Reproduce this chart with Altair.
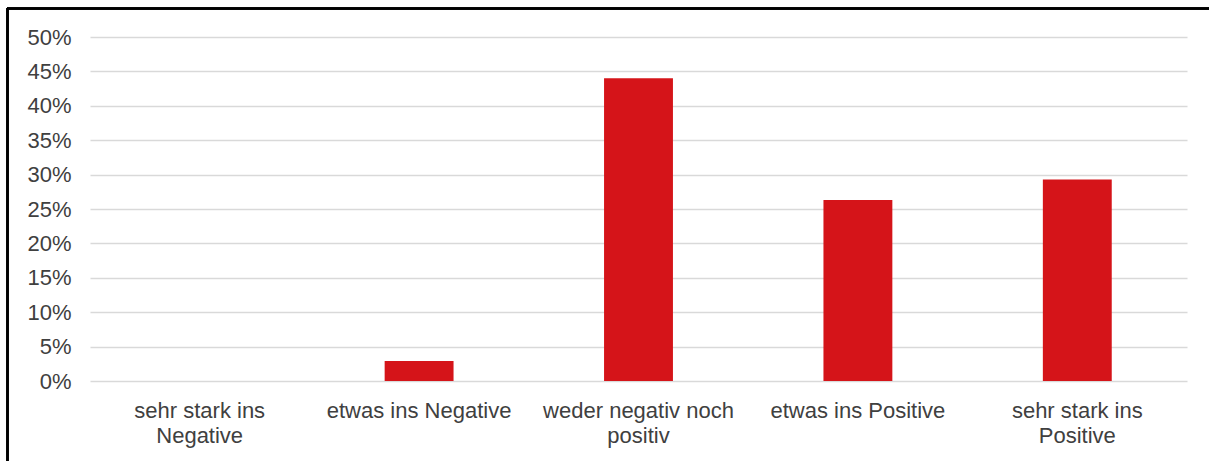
import altair as alt
import pandas as pd

# Survey answer categories and share of respondents per answer
categories = [
    "sehr stark ins Negative",
    "etwas ins Negative",
    "weder negativ noch positiv",
    "etwas ins Positive",
    "sehr stark ins Positive",
]
shares = [0.0, 0.029, 0.440, 0.263, 0.293]
tick_values = [0.0, 0.05, 0.10, 0.15, 0.20, 0.25, 0.30, 0.35, 0.40, 0.45, 0.50]

df = pd.DataFrame({"Kategorie": categories, "Anteil": shares})

FONT = "Liberation Sans"
LABEL_COLOR = "#404040"

# Wrapped axis labels (two lines where the text is long)
label_expr = (
    "{'sehr stark ins Negative': ['sehr stark ins', 'Negative'],"
    " 'etwas ins Negative': 'etwas ins Negative',"
    " 'weder negativ noch positiv': ['weder negativ noch', 'positiv'],"
    " 'etwas ins Positive': 'etwas ins Positive',"
    " 'sehr stark ins Positive': ['sehr stark ins', 'Positive']}[datum.label]"
)

bars = (
    alt.Chart(df)
    .mark_bar(color="#D51419")
    .encode(
        x=alt.X(
            "Kategorie:N",
            sort=categories,
            title=None,
            scale=alt.Scale(paddingInner=0.686, paddingOuter=0.343),
            axis=alt.Axis(
                labelAngle=0,
                labelExpr=label_expr,
                labelFont=FONT,
                labelFontSize=22,
                labelColor=LABEL_COLOR,
                labelLineHeight=25,
                labelPadding=19,
                labelLimit=300,
                ticks=False,
                domain=False,
                grid=False,
            ),
        ),
        y=alt.Y(
            "Anteil:Q",
            title=None,
            scale=alt.Scale(domain=[0, 0.5], nice=False),
            axis=alt.Axis(
                values=tick_values,
                format=".0%",
                labelFont=FONT,
                labelFontSize=22,
                labelColor=LABEL_COLOR,
                labelPadding=19,
                ticks=False,
                domain=False,
                grid=True,
                gridColor="#D9D9D9",
                gridWidth=1.3,
            ),
        ),
    )
)

# Thin black frame around the figure (top and left edges)
frame_top = alt.Chart(df).mark_rule(color="black", strokeWidth=2, clip=False).encode(
    x=alt.value(-83), x2=alt.value(1200), y=alt.value(-28.5)
)
frame_left = alt.Chart(df).mark_rule(color="black", strokeWidth=2, clip=False).encode(
    x=alt.value(-82.5), y=alt.value(-29), y2=alt.value(450)
)

chart = (
    alt.layer(bars, frame_top, frame_left)
    .properties(
        width=1097,
        height=344,
        autosize=alt.AutoSizeParams(type="none"),
        padding={"left": 90, "top": 37, "right": 22, "bottom": 80},
        background="white",
    )
    .configure_view(stroke=None)
)

chart.save("out.html", embed_options={"renderer": "svg", "actions": False})
